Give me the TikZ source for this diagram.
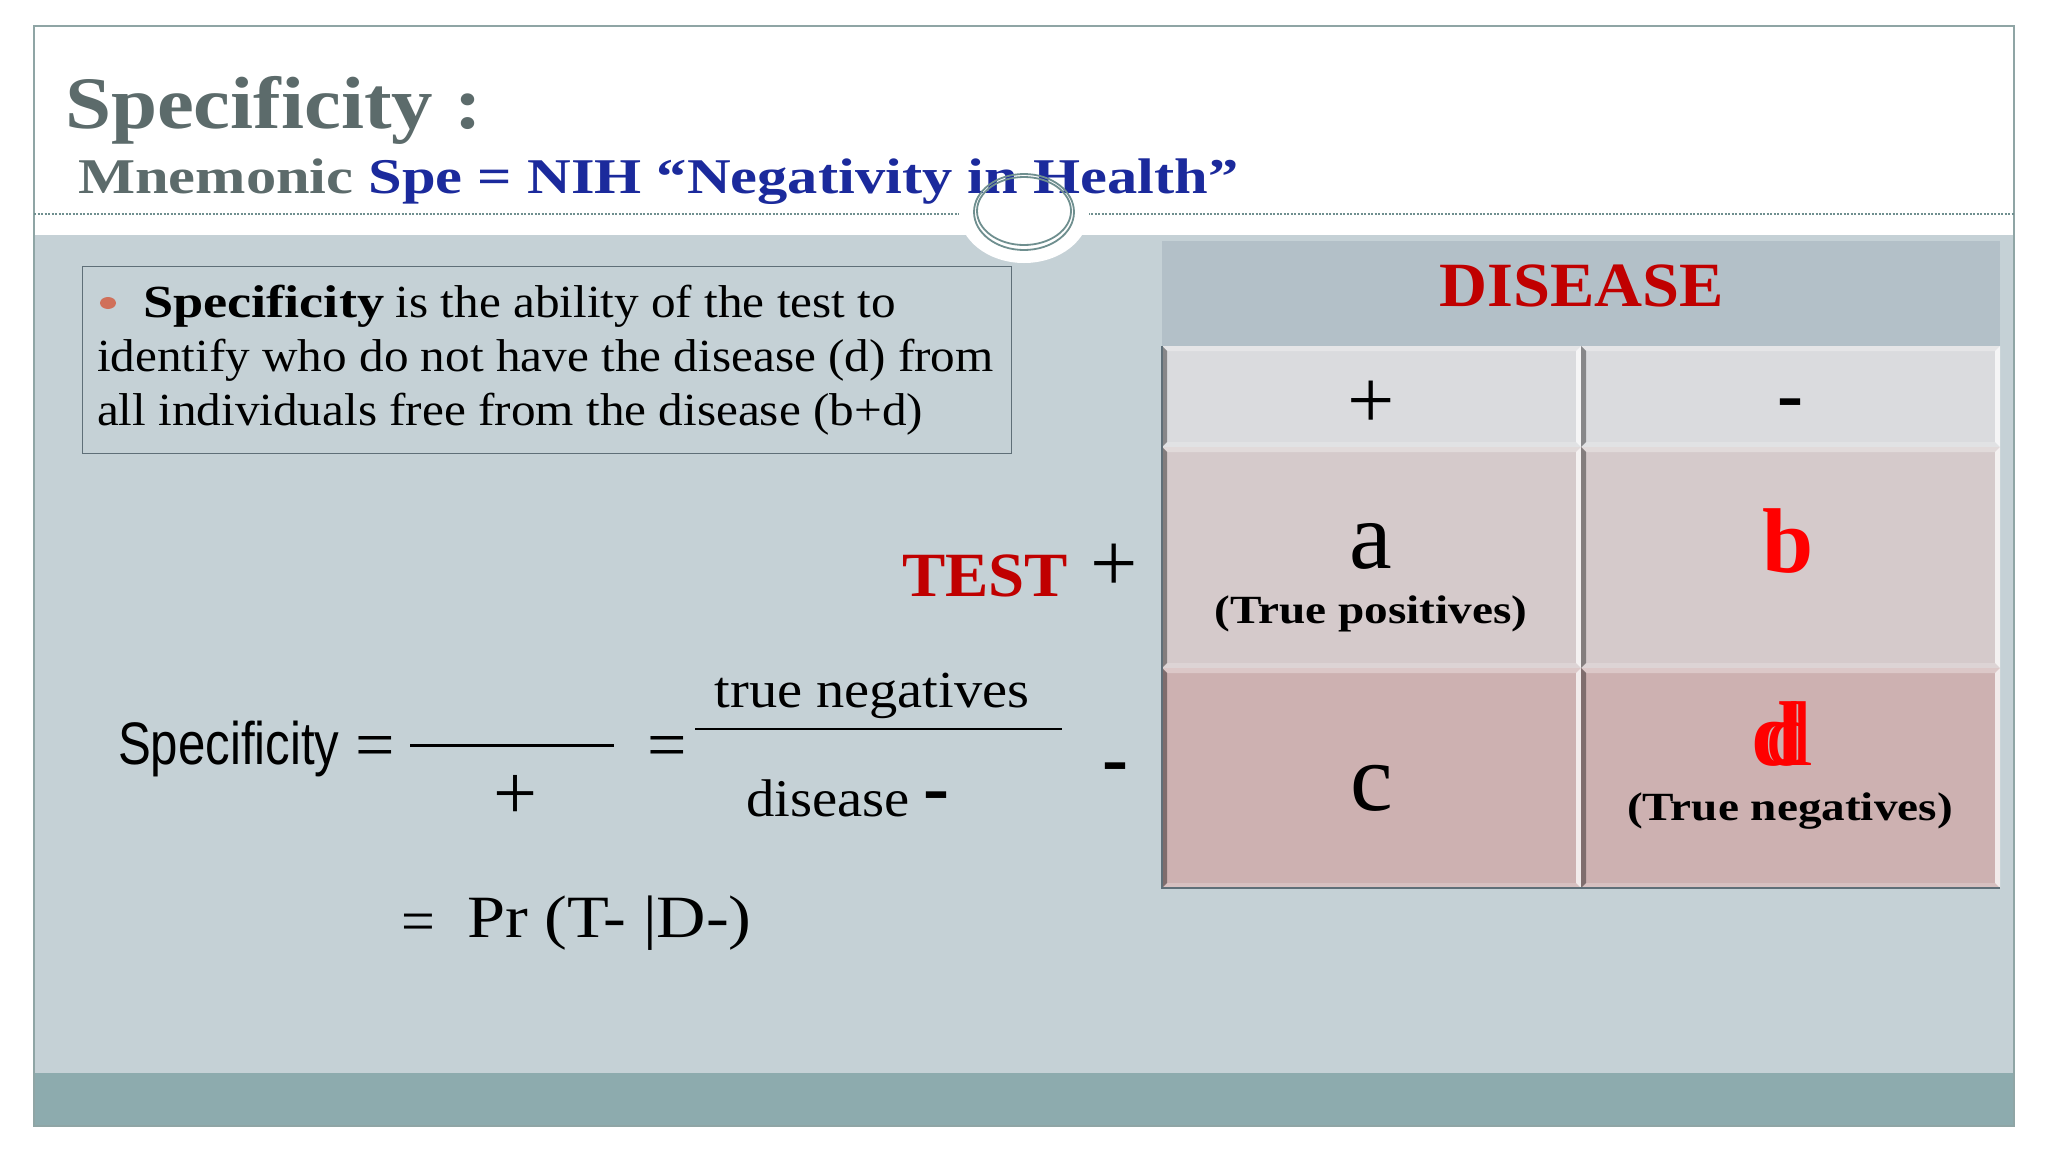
\documentclass[tikz,border=0pt]{standalone}
\usepackage{fontspec}
\setmainfont{Liberation Serif}
\newfontfamily\titlefont[FakeStretch=1.12]{Liberation Serif}
\newfontfamily\mnemfont[FakeStretch=1.21]{Liberation Serif}
\newfontfamily\midfont[FakeStretch=1.07]{Liberation Serif}
\newfontfamily\tnfont[FakeStretch=1.085]{Liberation Serif}
\newfontfamily\boldwide[FakeStretch=1.18]{Liberation Serif}
\newfontfamily\prfont[FakeStretch=1.14]{Liberation Serif}
\newfontfamily\testfont[FakeStretch=1.03]{Liberation Serif}
\newfontfamily\disfont[FakeStretch=1.055]{Liberation Serif}
\newfontfamily\narrowsans[FakeStretch=0.82]{Liberation Sans}
\definecolor{bodyblue}{HTML}{C5D1D6}
\definecolor{footer}{HTML}{8DABAE}
\definecolor{framec}{HTML}{8FA5A5}
\definecolor{headfill}{HTML}{B3C0C8}
\definecolor{rowa}{HTML}{DADBDE}
\definecolor{rowb}{HTML}{D5CACB}
\definecolor{rowc}{HTML}{CDB1B1}
\definecolor{darkred}{HTML}{C00000}
\definecolor{titlegray}{HTML}{5C6B6B}
\definecolor{navy}{HTML}{1B2A9C}
\definecolor{ringc}{HTML}{6F8F8F}
\definecolor{boxline}{HTML}{5F6F78}
\definecolor{bulletc}{HTML}{D0705A}
\newcommand{\fs}[1]{\fontsize{#1}{#1}\selectfont}
\tikzset{
  txt/.style={inner sep=0pt,outer sep=0pt,anchor=base},
  cellbox/.style={inner sep=0pt,outer sep=0pt,anchor=north west,draw=none},
}
% bevelled table cell: name, fill, x, y, width, height
\newcommand{\bevelcell}[6]{%
  \node[cellbox,fill=#2,minimum width=#5pt,minimum height=#6pt] (#1) at (#3,#4) {};
  \fill[white,opacity=.3] (#1.north west) -- (#1.north east) -- ++(-5,5) -- ($(#1.north west)+(5,5)$) -- cycle;
  \fill[black,opacity=.38] (#1.north west) -- ++(5,5) -- ($(#1.south west)+(5,-5)$) -- (#1.south west) -- cycle;
  \fill[white,opacity=.75] (#1.north east) -- ++(-5,5) -- ($(#1.south east)+(-5,-5)$) -- (#1.south east) -- cycle;
  \fill[white,opacity=.2] (#1.south west) -- ++(5,-5) -- ($(#1.south east)+(-5,-5)$) -- (#1.south east) -- cycle;
}
\usetikzlibrary{calc}
\begin{document}
\begin{tikzpicture}[x=1pt,y=-1pt]
\useasboundingbox (0,0) rectangle (2048,1152);
\fill[white] (0,0) rectangle (2048,1152);
% slide
\fill[bodyblue] (34,235) rectangle (2014,1073);
\fill[footer] (34,1073) rectangle (2014,1126);
\draw[framec,line width=1.5pt] (34,26) rectangle (2014,1126);
% header rule and notch
\draw[ringc,line width=1.2pt,dash pattern=on 2pt off 1.5pt] (34,214) -- (2014,214);
\fill[white] (1024,212) ellipse [x radius=65,y radius=51];
% titles
\node[txt,anchor=base west,text=titlegray] (title) at (65,128) {\titlefont\bfseries\fs{74}Specificity :};
\node[txt,anchor=base west] (mnemonic) at (78,193) {\mnemfont\bfseries\fs{50}\textcolor{titlegray}{Mnemonic} \textcolor{navy}{Spe = NIH “Negativity in Health”}};
% rings
\draw[ringc,line width=1.8pt] (1024,212) ellipse [x radius=50,y radius=38];
\draw[ringc,line width=1.8pt] (1024,211) ellipse [x radius=47,y radius=34];
% definition box
\node[cellbox,draw=boxline,line width=1pt,minimum width=929pt,minimum height=187pt] (defbox) at (82,266) {};
\fill[bulletc] (108,303) ellipse [x radius=8,y radius=6];
\node[txt,anchor=base west] (def1) at (143,317) {\fs{46}{\boldwide\bfseries Specificity} \midfont is the ability of the test to};
\node[txt,anchor=base west] (def2) at (97,371) {\midfont\fs{46}identify who do not have the disease (d) from};
\node[txt,anchor=base west] (def3) at (97,425) {\midfont\fs{46}all individuals free from the disease (b+d)};
% formula
\node[txt,anchor=base west] (spec) at (118,764) {\narrowsans\fs{60}Specificity};
\node[txt] (eqa) at (375,768) {\fs{70}=};
\coordinate (la) at (410,745); \coordinate (lb) at (614,745);
\draw[line width=3pt] (la) -- (lb);
\node[txt] (eqb) at (667,768) {\fs{70}=};
\coordinate (lc) at (695,729); \coordinate (ld) at (1062,729);
\draw[line width=1.5pt] (lc) -- (ld);
\node[txt] (tn) at (872,707) {\tnfont\fs{52}true negatives};
\node[txt] (plusa) at (515,819) {\fs{78}+};
\node[txt,anchor=base west] (dis) at (746,816) {\midfont\fs{53}disease};
\node[txt] (dasha) at (936,813) {\bfseries\fs{78}-};
\node[txt] (dashb) at (1115,784) {\bfseries\fs{78}-};
\node[txt] (eqc) at (418,941) {\fs{60}=};
\node[txt,anchor=base west] (pr) at (467,937) {\prfont\fs{60}Pr (T- |D-)};
% test labels
\node[txt,anchor=base west,text=darkred] (test) at (902,596) {\testfont\bfseries\fs{63}TEST};
\node[txt] (testp) at (1114,591) {\fs{84}+};
% table
\node[cellbox,fill=headfill,minimum width=838pt,minimum height=105pt] (head) at (1162,241) {};
\node[txt,text=darkred] (dtitle) at (1582,306) {\disfont\bfseries\fs{63}DISEASE};
\bevelcell{c11}{rowa}{1162}{346}{419}{101}
\bevelcell{c12}{rowa}{1581}{346}{419}{101}
\bevelcell{c21}{rowb}{1162}{447}{419}{221}
\bevelcell{c22}{rowb}{1581}{447}{419}{221}
\bevelcell{c31}{rowc}{1162}{668}{419}{220}
\bevelcell{c32}{rowc}{1581}{668}{419}{220}
\draw[boxline,line width=1.5pt] (c11.north west) -- (c31.south west) -- (c32.south east);
\node[txt] (pluscol) at (1371,428) {\fs{84}+};
\node[txt] (minuscol) at (1790,420) {\bfseries\fs{78}-};
\node[txt] (a) at (1371,568) {\fs{96}a};
\node[txt] (tp) at (1371,623) {\boldwide\bfseries\fs{40}(True positives)};
\node[txt,text=red] (b) at (1788,572) {\bfseries\fs{92}b};
\node[txt] (c) at (1372,810) {\fs{96}c};
\node[txt,text=red] (d1) at (1777,765) {\bfseries\fs{92}d};
\node[txt,text=red] (d2) at (1789,765) {\fs{92}d};
\node[txt] (tneg) at (1790,820) {\boldwide\bfseries\fs{40}(True negatives)};
\end{tikzpicture}
\end{document}
